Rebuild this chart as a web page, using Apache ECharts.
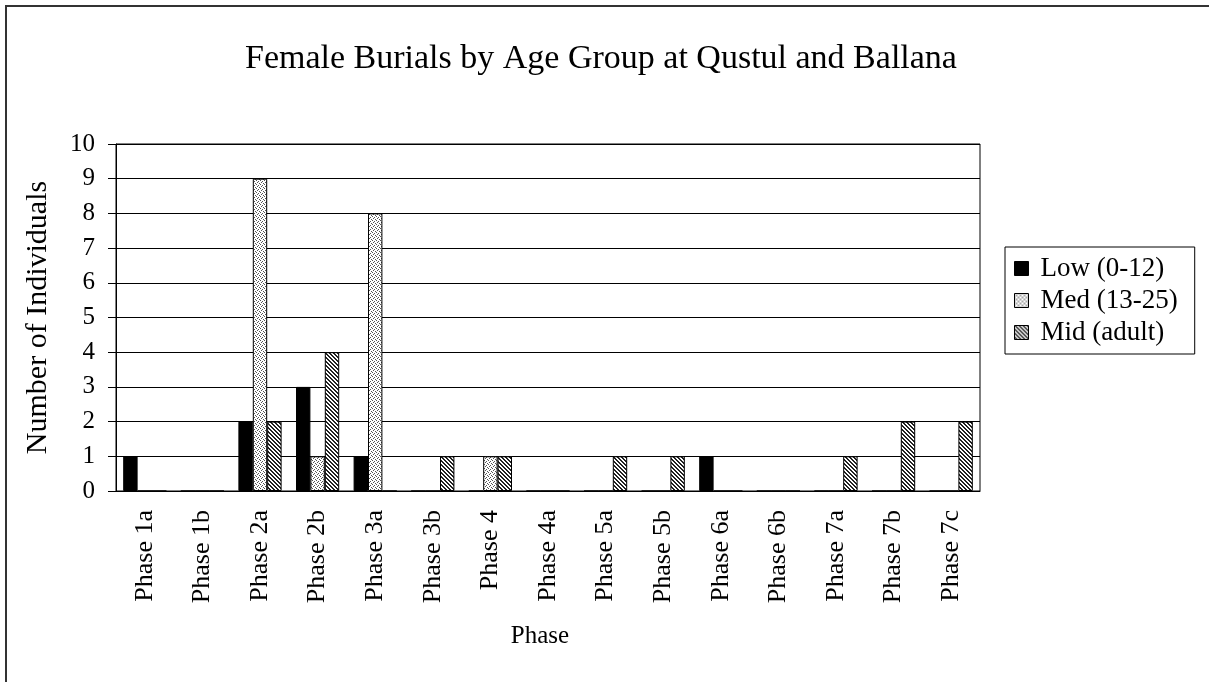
<!DOCTYPE html>
<html>
<head>
<meta charset="utf-8">
<script src="https://cdn.jsdelivr.net/npm/echarts@6/dist/echarts.min.js"></script>
<style>
  html, body { margin: 0; padding: 0; background: #fff; }
  #frame { position: absolute; left: 5px; top: 5px; width: 1204px; height: 677px;
           border-left: 2px solid #333; border-top: 2px solid #333; }
  #main { position: absolute; left: 0; top: 0; width: 1209px; height: 682px; }
</style>
</head>
<body>
<div id="frame"></div>
<div id="main"></div>
<script>
var phases = ['Phase 1a', 'Phase 1b', 'Phase 2a', 'Phase 2b', 'Phase 3a', 'Phase 3b', 'Phase 4', 'Phase 4a',
              'Phase 5a', 'Phase 5b', 'Phase 6a', 'Phase 6b', 'Phase 7a', 'Phase 7b', 'Phase 7c'];
var lowVals = [1, 0, 2, 3, 1, 0, 0, 0, 0, 0, 1, 0, 0, 0, 0];
var medVals = [0, 0, 9, 1, 8, 0, 1, 0, 0, 0, 0, 0, 0, 0, 0];
var midVals = [0, 0, 2, 4, 0, 1, 1, 0, 1, 1, 0, 0, 1, 2, 2];
var seriesNames = ['Low (0-12)', 'Med (13-25)', 'Mid (adult)'];

// fill patterns like the old excel ones
function dotPattern() {
    var c = document.createElement('canvas');
    c.width = 4; c.height = 4;
    var ctx = c.getContext('2d');
    ctx.fillStyle = '#fff';
    ctx.fillRect(0, 0, 4, 4);
    ctx.fillStyle = '#555';
    ctx.fillRect(0, 0, 1, 1);
    ctx.fillRect(2, 1, 1, 1);
    ctx.fillRect(1, 2, 1, 1);
    ctx.fillRect(3, 3, 1, 1);
    return c;
}
function hatchPattern() {
    var c = document.createElement('canvas');
    c.width = 4; c.height = 4;
    var ctx = c.getContext('2d');
    ctx.fillStyle = '#fff';
    ctx.fillRect(0, 0, 4, 4);
    ctx.fillStyle = '#222';
    for (var i = 0; i < 4; i++) {
        ctx.fillRect(i, i, 1, 1);
        ctx.fillRect((i + 1) % 4, i, 1, 1);
    }
    return c;
}

var fills = [
    '#000',
    { image: dotPattern(), repeat: 'repeat' },
    { image: hatchPattern(), repeat: 'repeat' }
];
var allVals = [lowVals, medVals, midVals];

var font = '"Liberation Serif", "Times New Roman", serif';

var series = [];
for (var n = 0; n < 3; n++) {
    series.push({
        name: seriesNames[n],
        type: 'bar',
        data: allVals[n],
        barGap: '0%',
        barCategoryGap: '25%',
        itemStyle: {
            color: fills[n],
            borderColor: '#000',
            borderWidth: 1
        }
    });
}

var mychart = echarts.init(document.getElementById('main'));
var option = {
    animation: false,
    title: {
        text: 'Female Burials by Age Group at Qustul and Ballana',
        left: 240,
        top: 37,
        textStyle: { fontFamily: font, fontSize: 34, fontWeight: 'normal', color: '#000' }
    },
    legend: {
        orient: 'vertical',
        left: 1005,
        top: 247,
        data: seriesNames,
        icon: 'rect',
        itemWidth: 14,
        itemHeight: 14,
        itemGap: 5,
        padding: [8, 17, 8, 9],
        borderColor: '#000',
        borderWidth: 1,
        itemStyle: { borderColor: '#000', borderWidth: 1 },
        textStyle: { fontFamily: font, fontSize: 27, color: '#000', padding: [0, 0, 0, 7] }
    },
    grid: {
        left: 116,
        right: 229,
        top: 144,
        bottom: 191,
        show: true,
        borderColor: '#000',
        borderWidth: 1
    },
    xAxis: {
        type: 'category',
        data: phases,
        name: 'Phase',
        nameLocation: 'middle',
        nameGap: 133,
        nameTextStyle: { fontFamily: font, fontSize: 25, color: '#000', padding: [0, 16, 0, 0] },
        axisLine: { lineStyle: { color: '#000', width: 1 } },
        axisTick: { length: 8, lineStyle: { color: '#000' } },
        axisLabel: { rotate: 90, margin: 19, fontFamily: font, fontSize: 26, color: '#000' }
    },
    yAxis: {
        type: 'value',
        min: 0,
        max: 10,
        interval: 1,
        name: 'Number of Individuals',
        nameLocation: 'middle',
        nameGap: 63,
        nameTextStyle: { fontFamily: font, fontSize: 30, color: '#000' },
        axisLine: { show: true, lineStyle: { color: '#000', width: 1 } },
        axisTick: { show: true, length: 8, lineStyle: { color: '#000' } },
        axisLabel: { margin: 21, fontFamily: font, fontSize: 25, color: '#000' },
        splitLine: { lineStyle: { color: '#000', width: 1 } }
    },
    series: series
};
mychart.setOption(option);
</script>
</body>
</html>
